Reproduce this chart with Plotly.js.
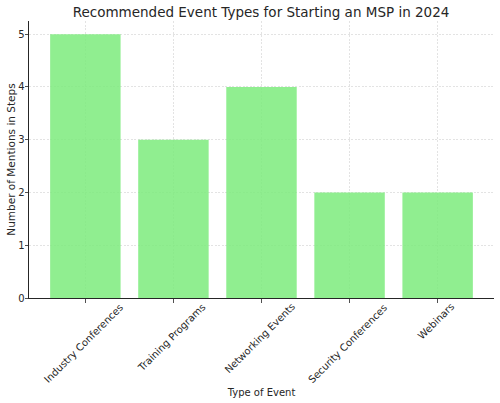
<!DOCTYPE html>
<html>
<head>
<meta charset="utf-8">
<script src="https://cdn.plot.ly/plotly-3.0.1.min.js"></script>
<style>html,body{margin:0;padding:0;background:#fff;}#chart{width:500px;height:403px;}</style>
</head>
<body>
<div id="chart"></div>
<script>
var categories = ["Industry Conferences", "Training Programs", "Networking Events", "Security Conferences", "Webinars"];
var mentions = [5, 3, 4, 2, 2];
var yTicks = [0, 1, 2, 3, 4, 5];

var trace = {
  type: 'bar',
  x: categories,
  y: mentions,
  width: 0.8,
  marker: {color: 'rgba(124,235,124,0.85)', line: {width: 0}},
  hoverinfo: 'x+y'
};

// rotated tick labels centred under each tick (matplotlib rotation=45, ha=center)
var tickAnnotations = categories.map(function (c) {
  return {
    x: c, xref: 'x', y: 0, yref: 'paper',
    text: c, showarrow: false, textangle: -45,
    xanchor: 'center', yanchor: 'top', yshift: -2, xshift: -2,
    borderpad: 0,
    font: {family: 'DejaVu Sans', size: 10, color: '#262626'}
  };
});

var layout = {
  width: 500, height: 403,
  margin: {l: 29, r: 6, t: 21, b: 105},
  paper_bgcolor: '#fff', plot_bgcolor: '#fff',
  font: {family: 'DejaVu Sans', size: 10, color: '#262626'},
  title: {text: 'Recommended Event Types for Starting an MSP in 2024', font: {size: 13.5, color: '#262626'}, x: 0.522, xanchor: 'center', y: 0.97, yanchor: 'middle'},
  bargap: 0.2,
  xaxis: {
    type: 'category',
    range: [-0.64, 4.64],
    showticklabels: false,
    ticks: 'outside', ticklen: 3.5, tickwidth: 0.8, tickcolor: '#262626',
    showline: true, linecolor: '#262626', linewidth: 1,
    showgrid: true, gridcolor: '#dcdcdc', gridwidth: 0.8, griddash: '2px,1.5px',
    zeroline: false,
    title: {text: 'Type of Event', font: {size: 10}, standoff: 87},
    automargin: false
  },
  yaxis: {
    range: [0, 5.25],
    tickvals: yTicks,
    ticks: 'outside', ticklen: 3.5, tickwidth: 0.8, tickcolor: '#262626',
    ticklabelstandoff: -2,
    showline: true, linecolor: '#262626', linewidth: 1,
    showgrid: true, gridcolor: '#dcdcdc', gridwidth: 0.8, griddash: '2px,1.5px',
    zeroline: false,
    title: {text: 'Number of Mentions in Steps', font: {size: 10.5}, standoff: 0},
    tickfont: {size: 10},
    automargin: false
  },
  annotations: tickAnnotations,
  showlegend: false
};

Plotly.newPlot('chart', [trace], layout, {displayModeBar: false, staticPlot: true});
</script>
</body>
</html>
